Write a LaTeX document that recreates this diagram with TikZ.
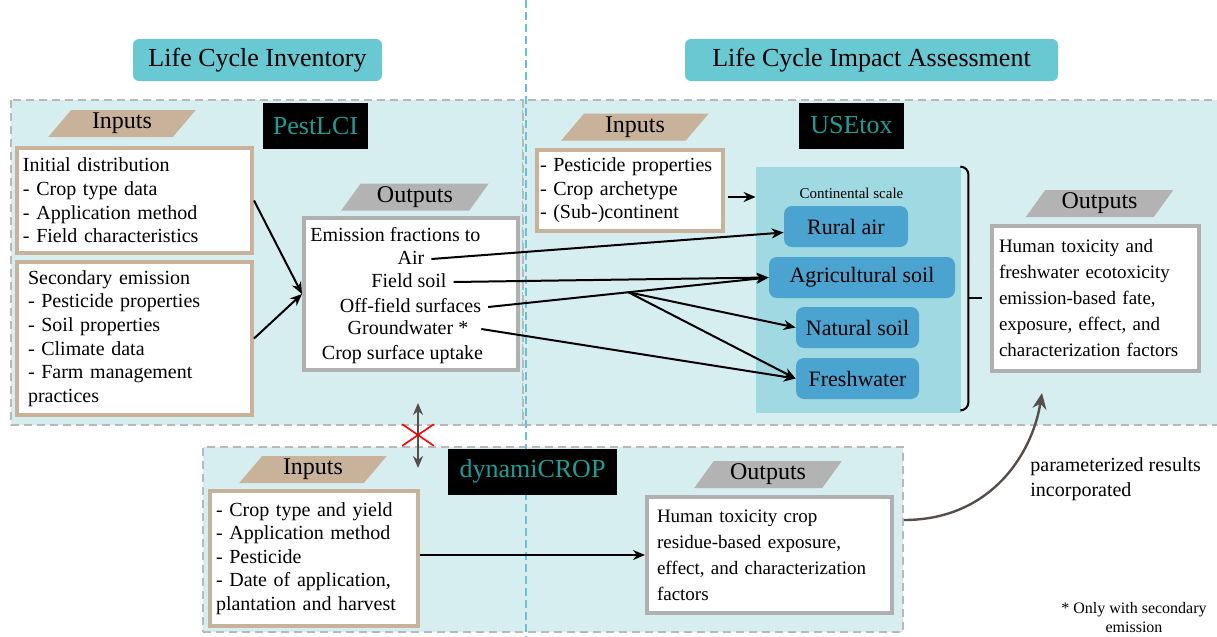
\documentclass[tikz,border=0pt]{standalone}
\usepackage{fontspec}
\setmainfont{Liberation Serif}
\usetikzlibrary{arrows.meta,shapes.geometric,shapes.misc,calc}

\definecolor{headteal}{RGB}{104,201,210}
\definecolor{panelbg}{RGB}{214,238,240}
\definecolor{panelline}{RGB}{185,185,185}
\definecolor{splitline}{RGB}{100,196,210}
\definecolor{tanfill}{RGB}{200,178,153}
\definecolor{graytag}{RGB}{179,179,179}
\definecolor{grayline}{RGB}{176,176,176}
\definecolor{contblue}{RGB}{160,217,225}
\definecolor{compblue}{RGB}{75,163,207}
\definecolor{modelteal}{RGB}{26,158,149}
\definecolor{feedgray}{RGB}{85,78,74}

\tikzset{
  panel/.style={draw=panelline, fill=panelbg, line width=1pt, dash pattern=on 4pt off 2.5pt},
  heading/.style={fill=headteal, rounded corners=3pt, minimum height=21pt, font=\fontsize{13}{15}\selectfont},
  modelname/.style={fill=black, text=modelteal, minimum height=23pt, font=\fontsize{13}{15}\selectfont},
  tag/.style={trapezium, trapezium left angle=57, trapezium right angle=123, trapezium stretches=true,
    minimum width=74pt, minimum height=13.5pt, inner sep=0pt, font=\fontsize{12}{14}\selectfont},
  intag/.style={tag, fill=tanfill},
  outtag/.style={tag, fill=graytag},
  inbox/.style={draw=tanfill, line width=2pt, fill=white, align=left, inner xsep=3pt, font=\fontsize{10}{11.8}\selectfont},
  outbox/.style={draw=grayline, line width=2pt, fill=white, align=left, font=\fontsize{9.5}{13}\selectfont},
  emline/.style={font=\fontsize{10}{12}\selectfont, text height=7pt, text depth=2pt},
  comp/.style={fill=compblue, rounded corners=4pt, minimum height=20.5pt, font=\fontsize{11}{13}\selectfont},
  flow/.style={->, line width=1pt},
}

\begin{document}
\begin{tikzpicture}[x=0.5pt,y=-0.5pt,>={Stealth[length=6pt,width=5pt]}]
    \useasboundingbox (0,0) rectangle (1217,637);

    % panels
    \draw[panel] (11,100) rectangle (523,425);
    \draw[panel] (523,100) rectangle (1225,425);
    \node[panel, minimum width=350pt, minimum height=92.5pt] (dynpanel) at (553,539.5) {};
    \draw[splitline, line width=0.8pt, dash pattern=on 4pt off 2pt] (526,0) -- (526,637);

    % headings
    \node[heading, minimum width=124.5pt] (lci) at (257.5,60) {Life Cycle Inventory};
    \node[heading, minimum width=186.5pt] (lcia) at (871.5,60) {Life Cycle Impact Assessment};

    % PestLCI
    \node[intag] (lciin) at (122,123.5) {Inputs};
    \node[modelname, minimum width=52.5pt] (pestlci) at (315.5,126) {PestLCI};
    \node[inbox, text width=111.5pt, minimum height=52.5pt] (initd) at (134.5,200.5)
        {Initial distribution\\- Crop type data\\- Application method\\- Field characteristics};
    \node[inbox, inner xsep=5.5pt, text width=106.5pt, minimum height=76.5pt] (secem) at (134.5,338.5)
        {Secondary emission\\- Pesticide properties\\- Soil properties\\- Climate data\\- Farm management\\practices};
    \node[outtag] (lciout) at (415,197) {Outputs};
    \node[outbox, minimum width=107pt, minimum height=76pt] (emis) at (411,294) {};
    \node[emline, anchor=west, inner sep=0pt] (temis) at (310,236) {Emission fractions to};
    \node[emline] (tair) at (411,259) {Air};
    \node[emline] (tsoil) at (409,282) {Field soil};
    \node[emline] (toff) at (410.5,307) {Off-field surfaces};
    \node[emline] (tgw) at (408,329) {Groundwater *};
    \node[emline] (tcrop) at (402.5,354) {Crop surface uptake};
    \draw[flow] (initd.east) -- (emis.west);
    \draw[flow] (secem.east) -- (emis.west);

    % USEtox
    \node[intag] (lciain) at (635,127) {Inputs};
    \node[modelname, minimum width=52.5pt] (usetox) at (851.5,125.5) {USEtox};
    \node[inbox, inner xsep=1.5pt, text width=90pt, minimum height=40.5pt] (usein) at (630,190.5)
        {- Pesticide properties\\- Crop archetype\\- (Sub-)continent};
    \node[fill=contblue, minimum width=102.5pt, minimum height=123pt] (conti) at (858.5,290) {};
    \node[font=\fontsize{7.5}{9}\selectfont] (contlabel) at (851.5,193) {Continental scale};
    \node[comp, minimum width=62pt] (rural) at (846,226.5) {Rural air};
    \node[comp, minimum width=93pt] (agri) at (862,277.5) {Agricultural soil};
    \node[comp, minimum width=61.5pt] (natural) at (857.5,327.5) {Natural soil};
    \node[comp, minimum width=61.5pt] (fresh) at (857.5,378.5) {Freshwater};
    \draw[line width=1pt, rounded corners=4pt] (conti.north east) -- ++(7,0) -- ($(conti.south east)+(7,-3)$) -- ($(conti.south east)+(0,-3)$);
    \draw[line width=1pt] ($(conti.east)+(7,8)$) -- ++(14,0);
    \node[outtag] (lciaout) at (1099.5,203.5) {Outputs};
    \node[outbox, inner xsep=3.5pt, text width=96.5pt, minimum height=72.5pt] (useout) at (1095.5,298.5)
        {Human toxicity and\\freshwater ecotoxicity\\emission-based fate,\\exposure, effect, and\\characterization factors};
    \draw[flow] ([xshift=1.5pt,yshift=-3.25pt]usein.east) -- ([yshift=-3.25pt]usein.east -| conti.west);

    % emission fractions into compartments
    \draw[flow] (tair.east) -- ([yshift=-3pt]rural.west);
    \draw[flow] (tsoil.east) -- (agri.west);
    \draw[flow] (toff.east) -- (agri.west);
    \coordinate (fork) at ($(toff.east)!0.5!(agri.west)$);
    \draw[flow] (fork) -- (natural.west);
    \draw[flow] (fork) -- (fresh.west);
    \draw[flow] ([xshift=3pt]tgw.east) -- (fresh.west);

    % dynamiCROP
    \node[intag] (dynin) at (313,469.5) {Inputs};
    \node[modelname, minimum width=84.5pt] (dyncrop) at (532.5,471.5) {dynamiCROP};
    \node[inbox, text width=98pt, minimum height=67.5pt] (dynsrc) at (314,558.5)
        {- Crop type and yield\\- Application method\\- Pesticide\\- Date of application,\\plantation and harvest};
    \node[outtag] (dynout) at (768,474.5) {Outputs};
    \node[outbox, inner xsep=5pt, text width=112.5pt, minimum height=58pt] (dynres) at (769.5,555)
        {Human toxicity crop\\residue-based exposure,\\effect, and characterization\\factors};
    \draw[flow] (dynsrc.east |- dynres.west) -- (dynres.west);

    % feedback to USEtox
    \coordinate (feedin) at (1042,393);
    \draw[feedgray, line width=1.2pt, -{Stealth[length=8pt,width=7pt]}] ([yshift=9.75pt]dynpanel.east)
        .. controls (990,520) and (1032,455) .. (feedin);
    \node[font=\fontsize{10}{12.5}\selectfont, align=left, anchor=west, inner sep=0pt] (feedlabel) at (1030,479.5)
        {parameterized results\\incorporated};

    % no direct link
    \coordinate (gap) at (418,435);
    \draw[feedgray, line width=1pt, {Stealth[length=6pt,width=5pt]}-{Stealth[length=6pt,width=5pt]}]
        ([yshift=16pt]gap) -- ([yshift=-16.5pt]gap);
    \node[cross out, draw=red, line width=0.8pt, minimum width=15pt, minimum height=10pt, inner sep=0pt] (nolink) at (gap) {};

    \node[font=\fontsize{8}{9.5}\selectfont, align=center] (footnote) at (1134,618) {* Only with secondary\\emission};
\end{tikzpicture}
\end{document}
